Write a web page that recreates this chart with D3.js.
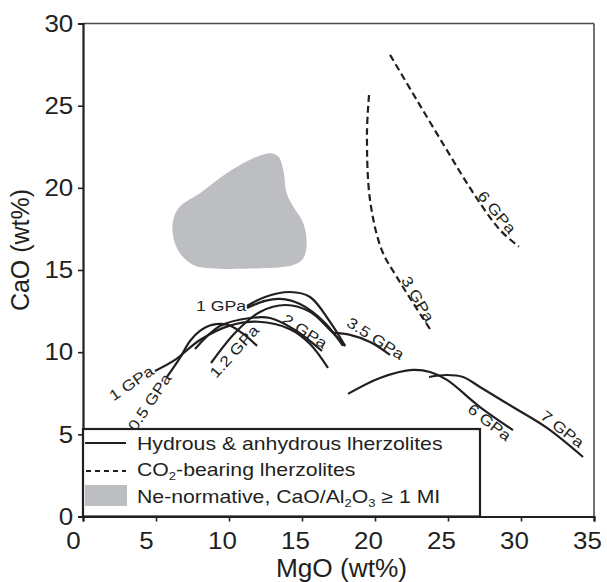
<!DOCTYPE html>
<html><head><meta charset="utf-8">
<script src="https://cdn.jsdelivr.net/npm/d3@7"></script>
<style>
html,body{margin:0;padding:0;background:#fff;}
text{font-family:"Liberation Sans",Arial,Helvetica,sans-serif;fill:#231f20;}
</style></head>
<body><svg id="chart" width="607" height="582"></svg>
<script>
// ---- data (MgO wt%, CaO wt%) ----
const xTicks = [0,5,10,15,20,25,30,35];
const yTicks = [0,5,10,15,20,25,30];

// Solid curves: hydrous & anhydrous lherzolites
const curve1GPaLow = [[4.93,8.86],[6.30,9.53],[8.01,10.74],[10.0,11.6],[12.0,11.85],[14.18,11.4],[15.55,10.5],[16.78,9.04]];
const curve05GPa   = [[5.75,8.49],[6.64,9.65],[7.33,10.68],[8.01,11.29],[8.84,11.66],[9.93,11.66],[10.89,11.17],[11.92,10.38]];
const curve2GPa    = [[7.67,10.19],[9.38,11.59],[11.44,12.08],[12.81,12.08],[14.52,11.35],[16.37,10.07]];
const curve12GPa   = [[8.77,9.34],[10.41,11.17],[12.12,12.45],[13.90,12.87],[15.55,12.45],[16.92,11.35],[17.95,10.38]];
const curve1GPaUpA = [[11.23,12.81],[12.47,13.36],[14.18,13.66],[15.55,13.36],[16.92,11.84],[17.95,10.38]];
const curve1GPaUpB = [[11.23,12.69],[12.47,13.12],[13.49,13.24],[14.86,12.93],[16.58,11.78],[17.81,10.38]];
const curve35GPa   = [[17.12,11.17],[18.29,11.05],[19.66,10.62],[21.03,9.83]];
const curve6GPa    = [[18.15,7.46],[20.34,8.43],[22.60,8.92],[23.77,8.79],[24.93,8.31],[27.19,6.66],[29.45,5.26]];
const curve7GPa    = [[23.70,8.49],[24.93,8.61],[26.03,8.49],[27.19,7.88],[29.45,6.66],[31.78,5.39],[34.25,3.62]];

// Dashed curves: CO2-bearing lherzolites
const co2_3GPa = [[19.59,25.65],[19.45,23.3],[19.66,19.26],[20.46,16.22],[21.49,14.58],[23.88,11.25]];
const co2_6GPa = [[21.03,28.09],[22.86,25.35],[24.91,22.31],[26.73,19.69],[28.56,17.44],[29.86,16.42]];

// Grey field: Ne-normative, CaO/Al2O3 >= 1 MI
const neField = [[6.18,18.05],[6.64,18.86],[8.01,19.67],[9.84,20.89],[11.66,21.80],[12.81,22.11],[13.38,21.90],[13.72,21.09],[13.95,19.67],[14.40,18.86],[15.09,17.85],[15.32,16.63],[15.09,15.72],[14.40,15.31],[12.12,15.11],[8.70,15.11],[7.55,15.31],[6.64,16.02],[6.18,17.03]];

const solidCurves = [curve1GPaLow, curve05GPa, curve2GPa, curve12GPa, curve1GPaUpA, curve1GPaUpB, curve35GPa, curve6GPa, curve7GPa];
const dashedCurves = [co2_3GPa, co2_6GPa];

// Curve labels: text, MgO, CaO, angle
const labelText  = ["1 GPa","1 GPa","0.5 GPa","1.2 GPa","2 GPa","3.5 GPa","6 GPa","7 GPa","3 GPa","6 GPa"];
const labelMgO   = [9.45, 3.30, 4.55, 10.34, 15.21, 20.05, 27.85, 32.85, 22.95, 28.36];
const labelCaO   = [12.81, 8.13, 6.97, 10.05, 11.29, 10.85, 5.75, 5.33, 13.24, 18.53];
const labelAngle = [0, -34, -56, -48, 33, 33, 38, 38, 60, 50];

const legendItems = ["Hydrous & anhydrous lherzolites","CO2-bearing lherzolites","Ne-normative, CaO/Al2O3 ≥ 1 MI"];

// ---- drawing ----
const svg = d3.select("#chart");
const ink = "#231f20";
const stretch = "scale(1.18,1)";
const x = d3.scaleLinear().domain([0,35]).range([83,594]);
const y = d3.scaleLinear().domain([0,30]).range([516.5,23.5]);

// frame top/right
svg.append("line").attr("x1",x(0)).attr("x2",x(35)).attr("y1",y(30)).attr("y2",y(30)).attr("stroke","#4d4d4f").attr("stroke-width",1.6);
svg.append("line").attr("x1",x(35)).attr("x2",x(35)).attr("y1",y(30)).attr("y2",y(0)).attr("stroke","#4d4d4f").attr("stroke-width",1.6);

// grey field
svg.append("path").datum(neField)
  .attr("d", d3.line().x(d=>x(d[0])).y(d=>y(d[1])).curve(d3.curveCatmullRomClosed.alpha(0.5)))
  .attr("fill","#bdbec2");

const line = d3.line().x(d=>x(d[0])).y(d=>y(d[1])).curve(d3.curveCatmullRom.alpha(0.5));
svg.append("g").selectAll("path").data(solidCurves).join("path")
  .attr("d", line).attr("fill","none").attr("stroke",ink).attr("stroke-width",2.2).attr("stroke-linecap","butt");
svg.append("g").selectAll("path").data(dashedCurves).join("path")
  .attr("d", line).attr("fill","none").attr("stroke",ink).attr("stroke-width",2.2).attr("stroke-dasharray","7,4");

// labels
svg.append("g").selectAll("text").data(labelText).join("text")
  .attr("transform",(d,i)=>`translate(${x(labelMgO[i])},${y(labelCaO[i])}) rotate(${labelAngle[i]}) ${stretch}`)
  .attr("text-anchor","middle").attr("dominant-baseline","central")
  .attr("font-size",15).text(d=>d);

// axes
const xAxis = svg.append("g").attr("transform",`translate(0,${y(0)})`)
  .call(d3.axisBottom(x).tickValues(xTicks).tickSize(5).tickPadding(10).tickFormat(d3.format("d")));
const yAxis = svg.append("g").attr("transform",`translate(${x(0)},0)`)
  .call(d3.axisLeft(y).tickValues(yTicks).tickSize(5).tickPadding(4).tickFormat(d3.format("d")));
[xAxis,yAxis].forEach(a=>{
  a.select(".domain").attr("stroke",ink).attr("stroke-width",2.2);
  a.selectAll(".tick line").attr("stroke",ink).attr("stroke-width",1.6);
  a.selectAll(".tick text").attr("font-size",24).attr("fill",ink).attr("font-family","Liberation Sans, Arial, sans-serif")
   .attr("transform","scale(1.08,1)");
});
xAxis.selectAll(".tick text").attr("transform",d=>`translate(${d<10?-10:-7},0) scale(1.08,1)`);

// axis titles
svg.append("text").attr("transform",`translate(${(x(0)+x(35))/2 + 3},577) scale(1.05,1)`).attr("text-anchor","middle").attr("font-size",25).text("MgO (wt%)");
svg.append("text").attr("transform",`translate(29,${(y(0)+y(30))/2-20}) rotate(-90)`).attr("text-anchor","middle").attr("font-size",25).text("CaO (wt%)");

// legend
const lg = svg.append("g");
lg.append("rect").attr("x",x(0)).attr("y",429).attr("width",397).attr("height",y(0)-429).attr("fill","#fff").attr("stroke",ink).attr("stroke-width",2.2);
lg.append("line").attr("x1",85).attr("x2",126).attr("y1",443).attr("y2",443).attr("stroke",ink).attr("stroke-width",2.2);
lg.append("line").attr("x1",86).attr("x2",126).attr("y1",471).attr("y2",471).attr("stroke",ink).attr("stroke-width",2.2).attr("stroke-dasharray","5,4");
lg.append("rect").attr("x",85).attr("y",485).attr("width",42).attr("height",21).attr("fill","#bdbec2");
const tx = 137, ls = 18;
lg.append("text").attr("transform",`translate(${tx},449.5) ${stretch}`).attr("font-size",ls).text(legendItems[0]);
const t2 = lg.append("text").attr("transform",`translate(${tx},475.5) ${stretch}`).attr("font-size",ls);
t2.append("tspan").text("CO");
t2.append("tspan").attr("font-size",11).attr("dy",4).text("2");
t2.append("tspan").attr("dy",-4).text("-bearing lherzolites");
const t3 = lg.append("text").attr("transform",`translate(${tx},502.5) ${stretch}`).attr("font-size",ls);
t3.append("tspan").text("Ne-normative, CaO/Al");
t3.append("tspan").attr("font-size",11).attr("dy",4).text("2");
t3.append("tspan").attr("dy",-4).text("O");
t3.append("tspan").attr("font-size",11).attr("dy",4).text("3");
t3.append("tspan").attr("dy",-4).text(" ≥ 1 MI");
</script></body></html>
